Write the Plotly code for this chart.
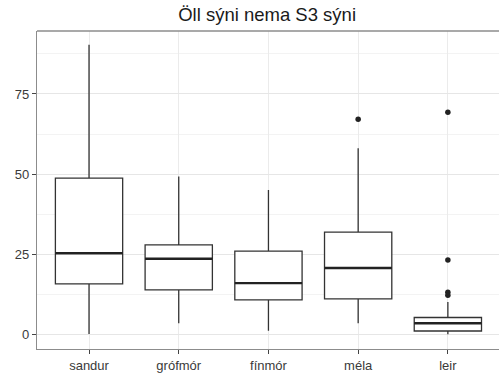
import plotly.graph_objects as go

categories = ["sandur", "grófmór", "fínmór", "méla", "leir"]
lower_whisker = [0.3, 3.6, 1.3, 3.6, 0.2]
q1_vals = [15.9, 14.0, 10.9, 11.2, 1.2]
median_vals = [25.4, 23.7, 16.1, 20.8, 3.6]
q3_vals = [48.8, 28.0, 26.1, 32.0, 5.4]
upper_whisker = [90.3, 49.3, 45.1, 58.1, 10.2]
outlier_cat = ["méla", "leir", "leir", "leir", "leir"]
outlier_vals = [67.1, 69.3, 23.3, 13.3, 12.3]
y_ticks = [0, 25, 50, 75]

box_w = 0.75
fig = go.Figure()
for i, c in enumerate(categories):
    fig.add_trace(go.Box(
        x=[i], q1=[q1_vals[i]], median=[median_vals[i]], q3=[q3_vals[i]],
        lowerfence=[lower_whisker[i]], upperfence=[upper_whisker[i]],
        width=box_w, whiskerwidth=0, fillcolor="white",
        line=dict(color="#333333", width=1.3), boxpoints=False,
        showlegend=False, hoverinfo="skip"))
    fig.add_trace(go.Scatter(
        x=[i - box_w / 2, i + box_w / 2], y=[median_vals[i], median_vals[i]],
        mode="lines", line=dict(color="#222222", width=2.4),
        showlegend=False, hoverinfo="skip"))

fig.add_trace(go.Scatter(
    x=[categories.index(c) for c in outlier_cat], y=outlier_vals,
    mode="markers", marker=dict(color="#222222", size=5.5),
    showlegend=False, hoverinfo="skip"))

# top border of the panel (right border lies outside the cropped image)
fig.add_shape(type="line", xref="paper", yref="paper", x0=0, x1=1, y0=1, y1=1,
              line=dict(color="#8c8c8c", width=1.3))

fig.update_layout(
    width=499, height=381,
    margin=dict(l=37, r=0, t=31, b=32),
    plot_bgcolor="white", paper_bgcolor="white",
    font=dict(family="Liberation Sans, Arial, sans-serif"),
    title=dict(text="Öll sýni nema S3 sýni", x=0.498, xref="paper",
               y=(381 - 15) / 381, yref="container", yanchor="middle", xanchor="center",
               font=dict(size=18.5, color="#1a1a1a")),
    xaxis=dict(
        range=[-0.58, 4.57], tickvals=list(range(len(categories))), ticktext=categories,
        showgrid=True, gridcolor="#ebebeb", gridwidth=1, zeroline=False,
        showline=True, linecolor="#8c8c8c", linewidth=1.3, mirror=False,
        ticks="outside", ticklen=4, tickcolor="#444444", tickwidth=1.2,
        tickfont=dict(size=13, color="#3a3a3a")),
    yaxis=dict(
        range=[-4.4, 94.6], tickvals=y_ticks,
        showgrid=True, gridcolor="#e6e6e6", gridwidth=1, zeroline=False,
        minor=dict(dtick=12.5, tick0=0, showgrid=True, gridcolor="#f3f3f3", gridwidth=1),
        showline=True, linecolor="#8c8c8c", linewidth=1.3, mirror=False,
        ticks="outside", ticklen=4, tickcolor="#444444", tickwidth=1.2,
        tickfont=dict(size=13, color="#3a3a3a")),
)

fig.write_html("out.html")
